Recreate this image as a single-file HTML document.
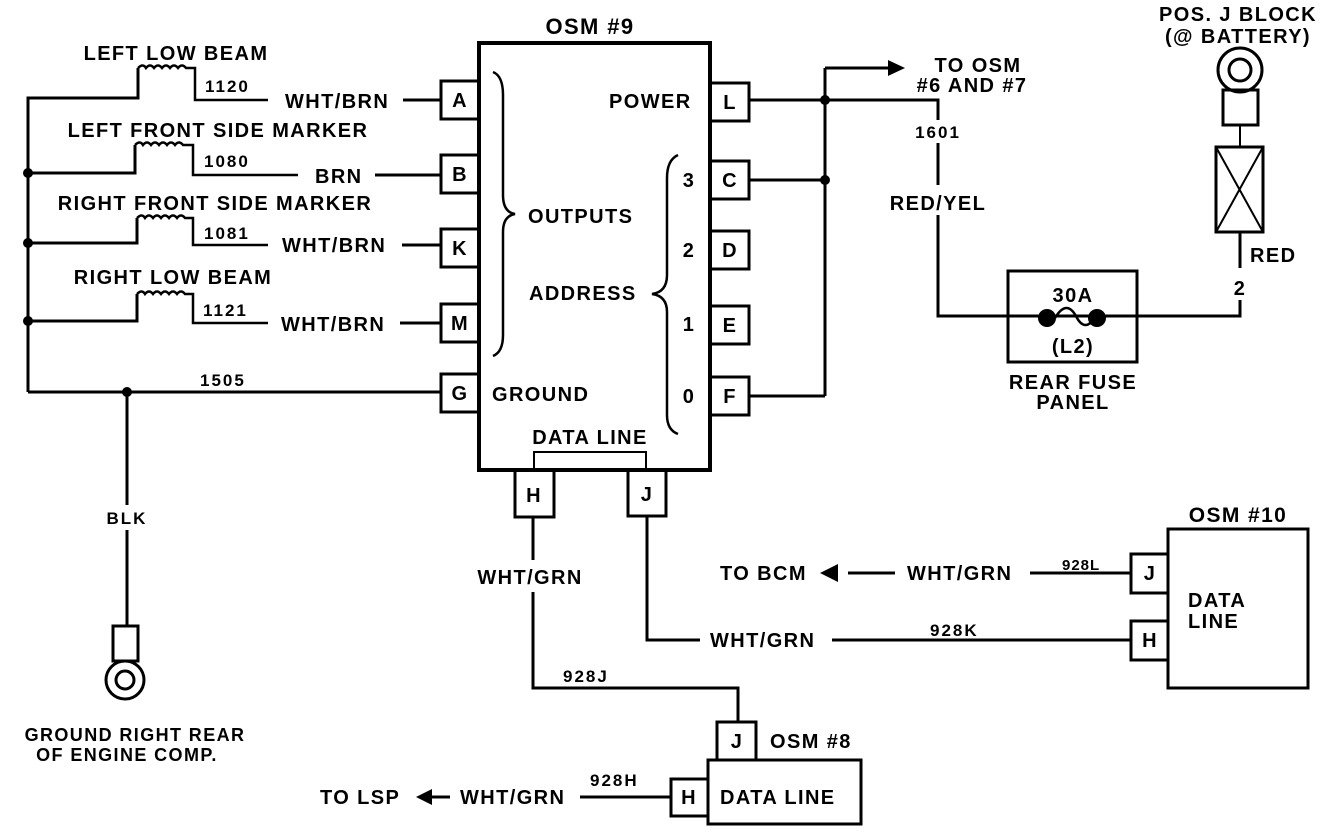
<!DOCTYPE html>
<html><head><meta charset="utf-8"><style>
html,body{margin:0;padding:0;background:#fff}
svg{display:block}
text{font-family:"Liberation Sans",Arial,sans-serif;font-weight:bold;font-size:20px;letter-spacing:1.4px;fill:#000}
text.s{font-size:17px;letter-spacing:2px}
.c{text-anchor:middle}
</style></head><body>
<svg width="1344" height="832" viewBox="0 0 1344 832" xmlns="http://www.w3.org/2000/svg">
<g fill="none" stroke="#000" stroke-width="3">
<rect x="479" y="43" width="231" height="427" stroke-width="4"/>
<rect x="441" y="81" width="38" height="38"/>
<rect x="441" y="155" width="38" height="38"/>
<rect x="441" y="229" width="38" height="38"/>
<rect x="441" y="304" width="38" height="38"/>
<rect x="441" y="374" width="38" height="38"/>
<rect x="710" y="83" width="39" height="38"/>
<rect x="710" y="161" width="39" height="38"/>
<rect x="710" y="231" width="39" height="38"/>
<rect x="710" y="306" width="39" height="38"/>
<rect x="710" y="377" width="39" height="38"/>
<rect x="515" y="470" width="39" height="47"/>
<rect x="628" y="470" width="38" height="46"/>
<polyline points="534,470 534,452 646,452 646,470" stroke-width="2"/>
<path d="M493,72 Q503,76 503,95 L503,195 Q503,212 515,214 Q503,216 503,232 L503,335 Q503,352 493,356" stroke-width="2.5"/>
<path d="M678,155 Q667,160 667,178 L667,275 Q667,292 652,294 Q667,296 667,312 L667,415 Q667,430 678,434" stroke-width="2.5"/>
<polyline points="28,392 28,98 138,98 138,68"/>
<polyline points="28,173 135,173 135,145"/>
<polyline points="28,243 137,243 137,218"/>
<polyline points="28,321 137,321 137,294"/>
<path d="M138,68 q5,-5 8,0 q4,-5 8,0 q4,-5 8,0 q4,-5 8,0 q4,-5 8,0 q4,-5 8,0 L195,68 L195,100 L268,100" stroke-width="2.5"/>
<path d="M135,145 q5,-5 8,0 q4,-5 8,0 q4,-5 8,0 q4,-5 8,0 q4,-5 8,0 q4,-5 8,0 L193,145 L193,175 L298,175" stroke-width="2.5"/>
<path d="M137,218 q5,-5 8,0 q4,-5 8,0 q4,-5 8,0 q4,-5 8,0 q4,-5 8,0 q4,-5 8,0 L193,218 L193,245 L268,245" stroke-width="2.5"/>
<path d="M137,294 q5,-5 8,0 q4,-5 8,0 q4,-5 8,0 q4,-5 8,0 q4,-5 8,0 q4,-5 8,0 L193,294 L193,323 L268,323" stroke-width="2.5"/>
<line x1="403" y1="100" x2="441" y2="100"/>
<line x1="375" y1="175" x2="441" y2="175"/>
<line x1="402" y1="245" x2="441" y2="245"/>
<line x1="400" y1="323" x2="441" y2="323"/>
<line x1="28" y1="392" x2="441" y2="392"/>
<line x1="127" y1="392" x2="127" y2="505"/>
<line x1="127" y1="530" x2="127" y2="626"/>
<rect x="113" y="626" width="25" height="35"/>
<circle cx="125" cy="680" r="19"/>
<circle cx="125" cy="680" r="9"/>
<polyline points="749,100 938,100 938,120"/>
<line x1="938" y1="143" x2="938" y2="185"/>
<polyline points="938,215 938,316 1240,316 1240,300"/>
<line x1="825" y1="68" x2="825" y2="396"/>
<line x1="825" y1="68" x2="890" y2="68"/>
<line x1="749" y1="180" x2="825" y2="180"/>
<line x1="749" y1="396" x2="825" y2="396"/>
<rect x="1008" y="271" width="129" height="91"/>
<path d="M1055,318 q12,-20 22,0 q8,14 18,0" stroke-width="2.5"/>
<line x1="1240" y1="233" x2="1240" y2="268"/>
<rect x="1216" y="147" width="47" height="85"/>
<line x1="1216" y1="147" x2="1263" y2="232" stroke-width="2"/>
<line x1="1263" y1="147" x2="1216" y2="232" stroke-width="2"/>
<line x1="1240" y1="125" x2="1240" y2="147" stroke-width="2"/>
<rect x="1223" y="90" width="35" height="35"/>
<circle cx="1240" cy="70" r="22"/>
<circle cx="1240" cy="70" r="11"/>
<rect x="1168" y="529" width="140" height="159"/>
<rect x="1131" y="554" width="37" height="39"/>
<rect x="1131" y="621" width="37" height="39"/>
<line x1="848" y1="573" x2="895" y2="573"/>
<line x1="1030" y1="573" x2="1131" y2="573"/>
<polyline points="647,516 647,640 700,640"/>
<line x1="832" y1="640" x2="1131" y2="640"/>
<line x1="533" y1="517" x2="533" y2="560"/>
<polyline points="533,592 533,688 738,688 738,722"/>
<rect x="717" y="722" width="39" height="38"/>
<rect x="708" y="760" width="153" height="64"/>
<rect x="671" y="779" width="37" height="37"/>
<line x1="580" y1="797" x2="671" y2="797"/>
<line x1="420" y1="797" x2="450" y2="797"/>
</g>
<g fill="#000">
<circle cx="28" cy="173" r="5"/><circle cx="28" cy="243" r="5"/><circle cx="28" cy="321" r="5"/>
<circle cx="127" cy="392" r="5"/>
<circle cx="825" cy="100" r="5"/><circle cx="825" cy="180" r="5"/>
<circle cx="1047" cy="318" r="9"/><circle cx="1097" cy="318" r="9"/>
<polygon points="888,60 905,68 888,76"/>
<polygon points="820,573 838,564 838,582"/>
<polygon points="416,797 432,789 432,805"/>
</g>
<text x="590" y="34" class="c" style="font-size:22px">OSM #9</text>
<text x="176" y="60" class="c">LEFT LOW BEAM</text>
<text x="218" y="137" class="c">LEFT FRONT SIDE MARKER</text>
<text x="215" y="210" class="c">RIGHT FRONT SIDE MARKER</text>
<text x="173" y="284" class="c">RIGHT LOW BEAM</text>
<text x="205" y="92" class="s">1120</text>
<text x="204" y="167" class="s">1080</text>
<text x="204" y="239" class="s">1081</text>
<text x="203" y="316" class="s">1121</text>
<text x="285" y="108">WHT/BRN</text>
<text x="315" y="183">BRN</text>
<text x="282" y="252">WHT/BRN</text>
<text x="281" y="331">WHT/BRN</text>
<text x="200" y="386" class="s">1505</text>
<text x="460" y="107" class="c">A</text><text x="460" y="181" class="c">B</text>
<text x="460" y="255" class="c">K</text><text x="460" y="330" class="c">M</text>
<text x="460" y="400" class="c">G</text>
<text x="730" y="109" class="c">L</text><text x="730" y="187" class="c">C</text>
<text x="730" y="257" class="c">D</text><text x="730" y="332" class="c">E</text>
<text x="730" y="403" class="c">F</text>
<text x="534" y="502" class="c">H</text><text x="647" y="501" class="c">J</text>
<text x="609" y="108">POWER</text>
<text x="528" y="223">OUTPUTS</text>
<text x="529" y="300">ADDRESS</text>
<text x="492" y="401">GROUND</text>
<text x="590" y="444" class="c">DATA LINE</text>
<text x="689" y="187" class="c">3</text><text x="689" y="257" class="c">2</text>
<text x="689" y="331" class="c">1</text><text x="689" y="403" class="c">0</text>
<text x="127" y="524" class="c s">BLK</text>
<text x="135" y="741" class="c" style="font-size:18px">GROUND RIGHT REAR</text>
<text x="127" y="761" class="c" style="font-size:18px">OF ENGINE COMP.</text>
<text x="978" y="72" class="c">TO OSM</text>
<text x="972" y="92" class="c">#6 AND #7</text>
<text x="938" y="138" class="c s">1601</text>
<text x="938" y="210" class="c">RED/YEL</text>
<text x="1238" y="21" class="c">POS. J BLOCK</text>
<text x="1238" y="43" class="c">(@ BATTERY)</text>
<text x="1250" y="262">RED</text>
<text x="1240" y="295" class="c">2</text>
<text x="1073" y="302" class="c">30A</text>
<text x="1073" y="353" class="c">(L2)</text>
<text x="1073" y="389" class="c">REAR FUSE</text>
<text x="1073" y="409" class="c">PANEL</text>
<text x="1238" y="522" class="c" style="font-size:21px">OSM #10</text>
<text x="1150" y="580" class="c">J</text><text x="1150" y="647" class="c">H</text>
<text x="1188" y="607">DATA</text><text x="1188" y="628">LINE</text>
<text x="720" y="580">TO BCM</text>
<text x="907" y="580">WHT/GRN</text>
<text x="1062" y="570" class="s" style="font-size:15px;letter-spacing:1px">928L</text>
<text x="710" y="647">WHT/GRN</text>
<text x="930" y="636" class="s">928K</text>
<text x="530" y="584" class="c">WHT/GRN</text>
<text x="563" y="682" class="s">928J</text>
<text x="737" y="748" class="c">J</text>
<text x="770" y="748">OSM #8</text>
<text x="689" y="804" class="c">H</text>
<text x="720" y="804">DATA LINE</text>
<text x="320" y="804">TO LSP</text>
<text x="460" y="804">WHT/GRN</text>
<text x="590" y="786" class="s">928H</text>
</svg>
</body></html>
